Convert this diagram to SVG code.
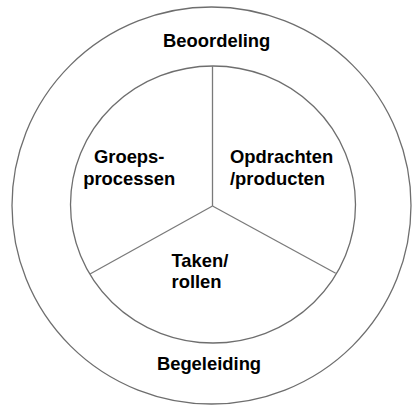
<svg xmlns="http://www.w3.org/2000/svg" width="413" height="407" viewBox="0 0 413 407">
<style>
.ring{fill:none;stroke:#6e6e6e;stroke-width:1.3}
.spoke{stroke:#7a7a7a;stroke-width:1.3;fill:none}
text{font-family:"Liberation Sans",Arial,sans-serif;font-weight:bold;font-size:18.4px;fill:#000}
</style>
<rect width="413" height="407" fill="#fff"/>
<g id="outer">
<ellipse class="ring" cx="211.5" cy="205.5" rx="199.5" ry="198.5"/>
<text x="216.7" y="46.5" text-anchor="middle">Beoordeling</text>
<text x="209" y="370" text-anchor="middle">Begeleiding</text>
</g>
<g id="inner">
<ellipse class="ring" cx="213" cy="204.5" rx="142.5" ry="138.5"/>
</g>
<g id="connectors">
<line class="spoke" x1="212.5" y1="206" x2="212.5" y2="66"/>
<line class="spoke" x1="212.5" y1="206" x2="90" y2="274"/>
<line class="spoke" x1="212.5" y1="206" x2="335.7" y2="273.3"/>
</g>
<g id="groepsprocessen">
<text x="129.2" y="163.3" text-anchor="middle">Groeps-</text>
<text x="129.2" y="185" text-anchor="middle">processen</text>
</g>
<g id="opdrachten">
<text x="230" y="163.3">Opdrachten</text>
<text x="230" y="185">/producten</text>
</g>
<g id="taken">
<text x="171.5" y="266.7">Taken/</text>
<text x="171.5" y="288.3">rollen</text>
</g>
</svg>
